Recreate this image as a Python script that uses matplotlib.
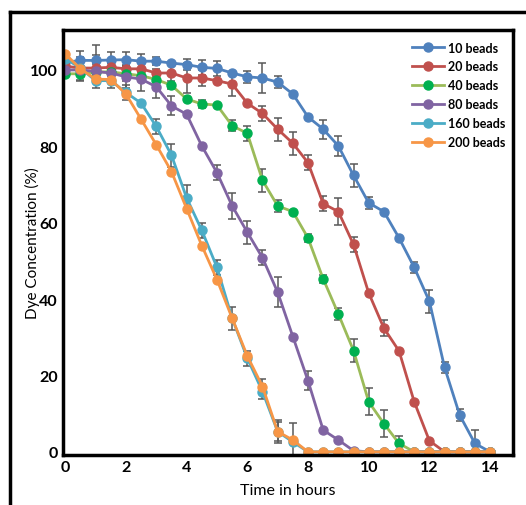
import matplotlib.pyplot as plt
import numpy as np
from matplotlib.lines import Line2D

plt.rcParams['font.family'] = ['Lato', 'DejaVu Sans']

# sampling times (hours)
time_h = [0, 0.5, 1, 1.5, 2, 2.5, 3, 3.5, 4, 4.5, 5, 5.5, 6, 6.5, 7,
          7.5, 8, 8.5, 9, 9.5, 10, 10.5, 11, 11.5, 12, 12.5, 13, 13.5, 14]

labels = ['10 beads', '20 beads', '40 beads', '80 beads', '160 beads', '200 beads']

beads_10 = [102, 102.5, 102.5, 102.6, 102.7, 102.3, 102.3, 101.8, 101.4, 100.7, 100.4, 99.2,
            98.2, 97.9, 96.8, 93.7, 87.7, 84.5, 80.1, 72.4, 65.2, 62.9, 56.0, 48.3, 39.4,
            22.1, 9.6, 2.2, 0]
beads_20 = [101, 100.5, 100.5, 100.7, 100.3, 100.3, 99.2, 99.2, 97.9, 97.9, 97.2, 96.3,
            91.3, 88.6, 84.5, 80.8, 75.7, 65.0, 62.9, 54.3, 41.6, 32.4, 26.4, 13.1, 2.9,
            0, 0, 0, 0]
beads_40 = [99, 99, 99.5, 99.5, 99, 98.5, 97.5, 96, 92.4, 91.1, 90.8, 85.4,
            83.4, 71.1, 64.4, 62.9, 56.0, 45.3, 36.1, 26.5, 13.1, 7.4, 2.2, 0, 0,
            0, 0, 0, 0]
beads_80 = [100, 100, 99.6, 99.2, 98.2, 97.6, 95.6, 90.6, 88.4, 80.1, 73.1, 64.4,
            57.5, 50.8, 41.8, 30.2, 18.6, 5.7, 3.1, 0.3, 0, 0, 0, 0, 0,
            0, 0, 0, 0]
beads_160 = [103, 100.5, 97.2, 97.2, 94.1, 91.3, 85.2, 77.7, 66.5, 58.0, 48.3, 35.0,
             24.5, 15.8, 5.3, 2.6, 0, 0, 0, 0, 0, 0, 0, 0, 0,
             0, 0, 0, 0]
beads_200 = [104.2, 100.3, 97.6, 97.5, 93.7, 87.1, 80.4, 73.4, 63.7, 54.0, 45.1, 35.0,
             25.1, 17.1, 5.3, 3.1, 0, 0, 0, 0, 0, 0, 0, 0, 0,
             0, 0, 0, 0]

# standard deviations (0 = no bar shown)
err_10 = [0, 2.5, 4, 2, 2, 2, 1, 0, 1.5, 2, 2, 0, 1.5, 4, 1.5, 0, 0, 2.5, 2.5, 3,
          1.5, 0, 0, 1.5, 3, 1.5, 1.5, 3.5, 0]
err_20 = [0, 2, 3.5, 1, 2.5, 1.5, 1, 3, 4, 2, 0, 3, 0, 2, 3, 3, 2, 2, 3.5, 2,
          0, 2, 0, 0, 0, 0, 0, 0, 0]
err_40 = [0, 2, 0, 1, 2, 1, 0, 1, 0, 1, 0, 1.5, 2, 3, 1.5, 0, 1, 1, 1.5, 3,
          3.5, 3.5, 2, 0, 0, 0, 0, 0, 0]
err_80 = [0, 0, 2, 2.5, 3, 3, 3, 2.5, 0, 0, 2, 3.5, 3, 2, 4, 0, 2.5, 0, 0, 0,
          0, 0, 0, 0, 0, 0, 0, 0, 0]
err_160 = [0, 3, 2, 2, 2, 0, 2, 3, 3.5, 2, 2, 3, 2, 2, 3, 0, 0, 0, 0, 0,
           0, 0, 0, 0, 0, 0, 0, 0, 0]
err_200 = [0, 0, 0, 0, 0, 0, 0, 0, 0, 0, 0, 0, 0, 2, 2.5, 4.5, 0, 0, 0, 0,
           0, 0, 0, 0, 0, 0, 0, 0, 0]

series = [beads_10, beads_20, beads_40, beads_80, beads_160, beads_200]
errors = [err_10, err_20, err_40, err_80, err_160, err_200]
line_colors = ['#4F81BD', '#C0504D', '#9BBB59', '#8064A2', '#4BACC6', '#F79646']
marker_colors = ['#4F81BD', '#C0504D', '#00B050', '#8064A2', '#4BACC6', '#F79646']

fig = plt.figure(figsize=(5.26, 5.06), dpi=100)
ax = fig.add_axes([0.120, 0.099, 0.855, 0.840])

x = np.array(time_h)
for vals, err in zip(series, errors):
    y = np.array(vals)
    e = np.array(err)
    m = e > 0
    ax.errorbar(x[m], y[m], yerr=e[m], fmt='none', ecolor='#595959',
                elinewidth=1.1, capsize=3, capthick=1.1, zorder=2)

for vals, lab, lc, mc in zip(series, labels, line_colors, marker_colors):
    ax.plot(time_h, vals, '-o', color=lc, markerfacecolor=mc, markeredgecolor=mc,
            lw=2, ms=6.5, label=lab, zorder=3)

ax.set_xlim(-0.07, 14.75)
ax.set_ylim(-0.8, 110.5)
ax.set_xticks(np.arange(0, 15, 2))
ax.set_yticks(np.arange(0, 101, 20))
ax.tick_params(length=0, labelsize=11.5, pad=4)
for t in ax.get_xticklabels() + ax.get_yticklabels():
    t.set_fontweight('bold')
for s in ax.spines.values():
    s.set_linewidth(2.5)
    s.set_zorder(5)

ax.set_xlabel('Time in hours', fontsize=11.5, labelpad=6)
ax.set_ylabel('Dye Concentration (%)', fontsize=11)
ax.yaxis.set_label_coords(-0.052, 0.5)

ax.legend(loc='upper right', frameon=False, prop={'weight': 'bold', 'size': 9},
          handlelength=2.6, labelspacing=0.55, handletextpad=0.3,
          bbox_to_anchor=(1.0, 0.99), borderaxespad=0.2)

# outer frame around the figure
fig.add_artist(Line2D([10 / 526, 10 / 526], [0, 1 - 13 / 506], color='black', lw=2.5))
fig.add_artist(Line2D([10 / 526, 1], [1 - 13 / 506, 1 - 13 / 506], color='black', lw=2.5))

fig.savefig('out.png', dpi=100)
